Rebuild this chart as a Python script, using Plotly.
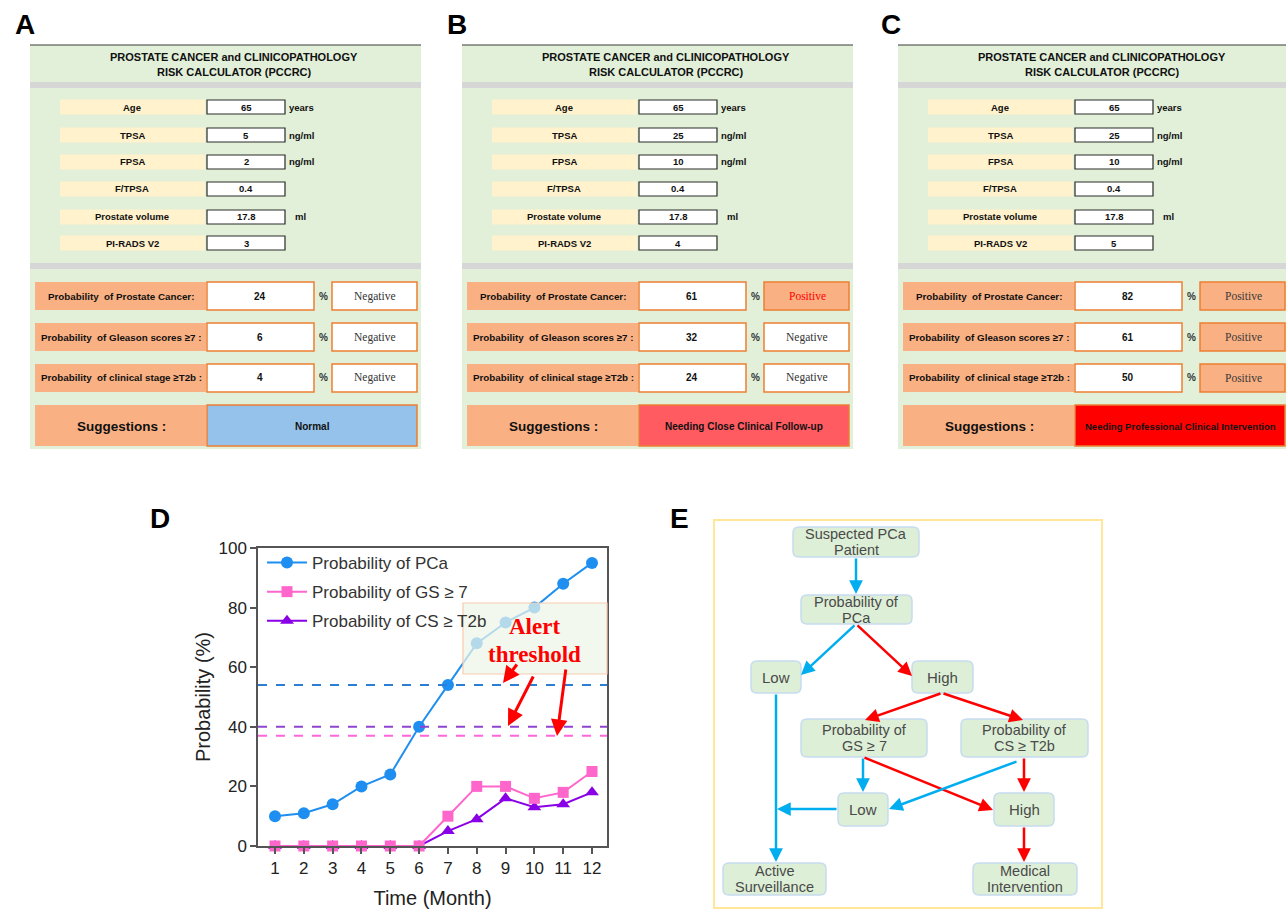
import plotly.graph_objects as go

W, H = 1286, 909

# ---------------- data: calculator panels (A, B, C) ----------------
panel_letters = ["A", "B", "C"]
calc_title = ["PROSTATE CANCER and CLINICOPATHOLOGY", "RISK CALCULATOR (PCCRC)"]
input_labels = ["Age", "TPSA", "FPSA", "F/TPSA", "Prostate volume", "PI-RADS V2"]
input_units = ["years", "ng/ml", "ng/ml", "", "ml", ""]
inputs_A = ["65", "5", "2", "0.4", "17.8", "3"]
inputs_B = ["65", "25", "10", "0.4", "17.8", "4"]
inputs_C = ["65", "25", "10", "0.4", "17.8", "5"]
prob_labels = ["Probability\u00a0 of Prostate Cancer:",
               "Probability\u00a0 of Gleason scores \u22657 :",
               "Probability\u00a0 of clinical stage \u2265T2b :"]
probs_A = [24, 6, 4]
probs_B = [61, 32, 24]
probs_C = [82, 61, 50]
results_A = ["Negative", "Negative", "Negative"]
results_B = ["Positive", "Negative", "Negative"]
results_C = ["Positive", "Positive", "Positive"]
suggestion_label = "Suggestions :"
suggestions = ["Normal", "Needing Close Clinical Follow-up",
               "Needing Professional Clinical Intervention"]

# ---------------- data: panel D ----------------
months = list(range(1, 13))
prob_pca = [10, 11, 14, 20, 24, 40, 54, 68, 75, 80, 88, 95]
prob_gs = [0, 0, 0, 0, 0, 0, 10, 20, 20, 16, 18, 25]
prob_cs = [0, 0, 0, 0, 0, 0, 5, 9, 16, 13, 14, 18]
series_names = ["Probability of PCa", "Probability of GS \u2265 7", "Probability of CS \u2265 T2b"]
threshold_pca = 54
threshold_cs = 40
threshold_gs = 37
y_ticks = [0, 20, 40, 60, 80, 100]

# ---------------- data: panel E (flowchart) ----------------
flow_nodes = ["Suspected PCa\nPatient", "Probability of\nPCa", "Low", "High",
              "Probability of\nGS \u2265 7", "Probability of\nCS \u2265 T2b", "Low", "High",
              "Active\nSurveillance", "Medical\nIntervention"]

# ---------------- helpers ----------------
SANS = "Liberation Sans, Arial, sans-serif"
SERIF = "Liberation Serif, Times New Roman, serif"
shapes = []
annotations = []


def X(px):
    return px / W


def Y(py):
    return 1 - py / H


def rect(x0, y0, x1, y1, fill, line_color=None, lw=0, layer="below", opacity=1):
    shapes.append(dict(type="rect", xref="paper", yref="paper",
                       x0=X(x0), x1=X(x1), y0=Y(y1), y1=Y(y0),
                       fillcolor=fill, opacity=opacity,
                       line=dict(color=line_color or "rgba(0,0,0,0)", width=lw),
                       layer=layer))


def rrect(x0, y0, x1, y1, r, fill, line_color, lw):
    p = lambda x, y: f"{X(x):.6f},{Y(y):.6f}"
    path = (f"M {p(x0 + r, y0)} L {p(x1 - r, y0)} Q {p(x1, y0)} {p(x1, y0 + r)} "
            f"L {p(x1, y1 - r)} Q {p(x1, y1)} {p(x1 - r, y1)} L {p(x0 + r, y1)} "
            f"Q {p(x0, y1)} {p(x0, y1 - r)} L {p(x0, y0 + r)} Q {p(x0, y0)} {p(x0 + r, y0)} Z")
    shapes.append(dict(type="path", xref="paper", yref="paper", path=path,
                       fillcolor=fill, line=dict(color=line_color, width=lw), layer="below"))


def line(x0, y0, x1, y1, color, lw):
    shapes.append(dict(type="line", xref="paper", yref="paper",
                       x0=X(x0), x1=X(x1), y0=Y(y0), y1=Y(y1),
                       line=dict(color=color, width=lw), layer="below"))


def text(x, y, s, size, color="#1a1a1a", bold=False, family=SANS, xanchor="center"):
    annotations.append(dict(xref="paper", yref="paper", x=X(x), y=Y(y), text=s,
                            showarrow=False, xanchor=xanchor, yanchor="middle",
                            font=dict(size=size, color=color, family=family,
                                      weight="bold" if bold else "normal")))


def arrow(tx, ty, hx, hy, color, lw=2.5):
    annotations.append(dict(xref="paper", yref="paper", x=X(hx), y=Y(hy),
                            ax=tx - hx, ay=ty - hy, axref="pixel", ayref="pixel",
                            text="", showarrow=True, arrowhead=2, arrowsize=1.1,
                            arrowwidth=lw, arrowcolor=color, standoff=0, startstandoff=0))


# ---------------- panels A, B, C ----------------
GREEN = "#E2F0D9"
GRAY = "#D6D6D6"
CREAM = "#FFF2CC"
ORANGE = "#F9B083"
ORANGE_LINE = "#ED7D31"

panel_inputs = [inputs_A, inputs_B, inputs_C]
panel_probs = [probs_A, probs_B, probs_C]
panel_results = [results_A, results_B, results_C]
panel_offsets = [0, 432, 868]
sugg_fill = ["#95C2EA", "#FF5B61", "#FF0000"]
positive_text = ["#1a1a1a", "#FF0000", "#3a3a3a"]

input_rows_y = [107, 135, 162, 189, 217, 243]
prob_rows_y = [296, 337, 378]

for k in range(3):
    d = panel_offsets[k]
    # letter
    text(25 + d - (2 if k == 2 else 0), 25, panel_letters[k], 28, "#000", True)
    # background
    rect(30 + d, 45, min(421 + d, W), 449, GREEN)
    line(30 + d, 45, min(421 + d, W), 45, "#3a3a3a", 1.2)
    rect(30 + d, 82, min(421 + d, W), 88, GRAY)
    rect(30 + d, 263, min(421 + d, W), 269, GRAY)
    text(234 + d, 57, calc_title[0], 11, "#111", True)
    text(234 + d, 72, calc_title[1], 11, "#111", True)
    # inputs
    for i, yc in enumerate(input_rows_y):
        rect(60 + d, yc - 7.5, 205 + d, yc + 7.5, CREAM)
        rect(207 + d, yc - 7, 285 + d, yc + 7, "#FFFFFF", "#2a2a2a", 1.2)
        text(132 + d, yc, input_labels[i], 9.5, "#111", True)
        text(246 + d, yc, panel_inputs[k][i], 9.5, "#111", True)
        if input_units[i]:
            ux = 293 if input_units[i] == "ml" else 287
            text(ux + d, yc, input_units[i], 9.5, "#111", True, xanchor="left")
    # probabilities
    for i, yc in enumerate(prob_rows_y):
        rect(35 + d, yc - 14, 206 + d, yc + 14, ORANGE)
        rect(207 + d, yc - 14, 314 + d, yc + 14, "#FFFFFF", ORANGE_LINE, 1.5)
        res = panel_results[k][i]
        pos = res == "Positive"
        rect(332 + d, yc - 14, min(417 + d, W - 1), yc + 14,
             ORANGE if pos else "#FFFFFF", ORANGE_LINE, 1.5)
        text(121 + d, yc, prob_labels[i], 9.8, "#111", True)
        text(260 + d, yc, str(panel_probs[k][i]), 10, "#111", True)
        text(323 + d, yc, "%", 10, "#333", True)
        text(375 + d, yc, res, 11.5, positive_text[k] if pos else "#333", False, SERIF)
    # suggestion
    rect(35 + d, 405, 206 + d, 446, ORANGE)
    rect(207 + d, 405, min(417 + d, W - 1), 446, sugg_fill[k], ORANGE_LINE, 1.5)
    text(121 + d, 426, suggestion_label, 13.5, "#111", True)
    text(312 + d, 426, suggestions[k], 10 if k < 2 else 9.5, "#111", True)

# ---------------- panel D ----------------
text(160, 518, "D", 28, "#000", True)
C_PCA = "#1E8FF0"
C_GS = "#FF66CC"
C_CS = "#8A00E6"

fig = go.Figure()
fig.add_trace(go.Scatter(x=months, y=prob_pca, name=series_names[0], mode="lines+markers",
                         line=dict(color=C_PCA, width=2), legendgroup="a", legendrank=1,
                         marker=dict(symbol="circle", size=12, color=C_PCA), cliponaxis=False))
fig.add_trace(go.Scatter(x=months, y=prob_cs, name=series_names[2], mode="lines+markers",
                         line=dict(color=C_CS, width=2), legendgroup="c", legendrank=3,
                         marker=dict(symbol="triangle-up", size=12, color=C_CS), cliponaxis=False))
fig.add_trace(go.Scatter(x=months, y=prob_gs, name=series_names[1], mode="lines+markers",
                         line=dict(color=C_GS, width=2), legendgroup="b", legendrank=2,
                         marker=dict(symbol="square", size=11, color=C_GS), cliponaxis=False))

for val, col in [(threshold_pca, "#2A7FD4"), (threshold_cs, "#8E44D0"), (threshold_gs, "#FF66DD")]:
    shapes.append(dict(type="line", xref="x domain", yref="y", x0=0, x1=1, y0=val, y1=val,
                       line=dict(color=col, width=2, dash="dash"), layer="above"))

# alert box and arrows
rect(463, 603, 607, 674, "rgba(238,245,232,0.72)", "#F8CBAD", 1.2, layer="above")
text(534, 626, "Alert", 23, "#FF0000", True, SERIF)
text(534, 654, "threshold", 23, "#FF0000", True, SERIF)
arrow(518, 663, 503, 683, "#FF0000", 3)
arrow(534, 675, 508, 726, "#FF0000", 3)
arrow(566, 668, 557, 736, "#FF0000", 3)

# ---------------- panel E ----------------
text(680, 518, "E", 28, "#000", True)
rect(714, 520, 1102, 908, "rgba(0,0,0,0)", "#FFE699", 2)
node_boxes = [(793, 527, 919, 557), (801, 595, 912, 624), (751, 661, 801, 693), (912, 661, 973, 693),
              (801, 719, 927, 757), (961, 719, 1088, 757), (838, 793, 888, 826), (994, 793, 1054, 826),
              (723, 863, 826, 895), (973, 863, 1077, 895)]
for lab, (x0, y0, x1, y1) in zip(flow_nodes, node_boxes):
    rrect(x0, y0, x1, y1, 6, "#DDEFD6", "#C6DCEF", 1.5)
    parts = lab.split("\n")
    cx, cy = (x0 + x1) / 2, (y0 + y1) / 2
    if len(parts) == 1:
        text(cx, cy, parts[0], 15, "#4a4a4a")
    else:
        text(cx, cy - 8, parts[0], 14.5, "#4a4a4a")
        text(cx, cy + 8, parts[1], 14.5, "#4a4a4a")

BLUE = "#00AEEF"
RED = "#FF0000"
arrow(856, 557, 856, 594, BLUE)
arrow(856, 624, 801, 675, BLUE)
arrow(856, 624, 912, 676, RED)
arrow(942, 693, 865, 720, RED)
arrow(942, 693, 1023, 720, RED)
arrow(863, 757, 863, 792, BLUE)
arrow(863, 757, 993, 810, RED)
arrow(1018, 761, 889, 809, BLUE)
arrow(1024, 757, 1024, 792, RED)
arrow(776, 693, 776, 862, BLUE)
arrow(838, 809, 777, 809, BLUE)
arrow(1024, 826, 1024, 862, RED)

# ---------------- layout ----------------
AX = "#555555"
fig.update_layout(
    width=W, height=H, margin=dict(l=0, r=0, t=0, b=0, pad=0, autoexpand=False),
    paper_bgcolor="white", plot_bgcolor="rgba(0,0,0,0)",
    font=dict(family=SANS, color="#222"),
    shapes=shapes, annotations=annotations,
    showlegend=True,
    legend=dict(x=X(262), y=Y(545), xanchor="left", yanchor="top",
                bgcolor="rgba(0,0,0,0)", font=dict(size=17, color="#333", family=SANS),
                tracegroupgap=4, itemwidth=40),
    xaxis=dict(domain=[X(258), X(607)], range=[0.41, 12.52], tickvals=months,
               automargin=False,
               showline=True, linecolor=AX, linewidth=1.5, mirror=True,
               ticks="outside", ticklen=6, tickwidth=1.5, tickcolor=AX,
               showgrid=False, zeroline=False, tickfont=dict(size=17, color="#222"),
               title=dict(text="Time (Month)", font=dict(size=20, color="#222"), standoff=14)),
    yaxis=dict(domain=[Y(846), Y(548)], range=[0, 100], tickvals=y_ticks,
               automargin=False,
               showline=True, linecolor=AX, linewidth=1.5, mirror=True,
               ticks="outside", ticklen=6, tickwidth=1.5, tickcolor=AX,
               showgrid=False, zeroline=False, tickfont=dict(size=17, color="#222"),
               title=dict(text="Probability (%)", font=dict(size=20, color="#222"), standoff=2)),
)

fig.write_html("out.html", config={"displayModeBar": False},
               post_script="document.body.style.margin='0';")
